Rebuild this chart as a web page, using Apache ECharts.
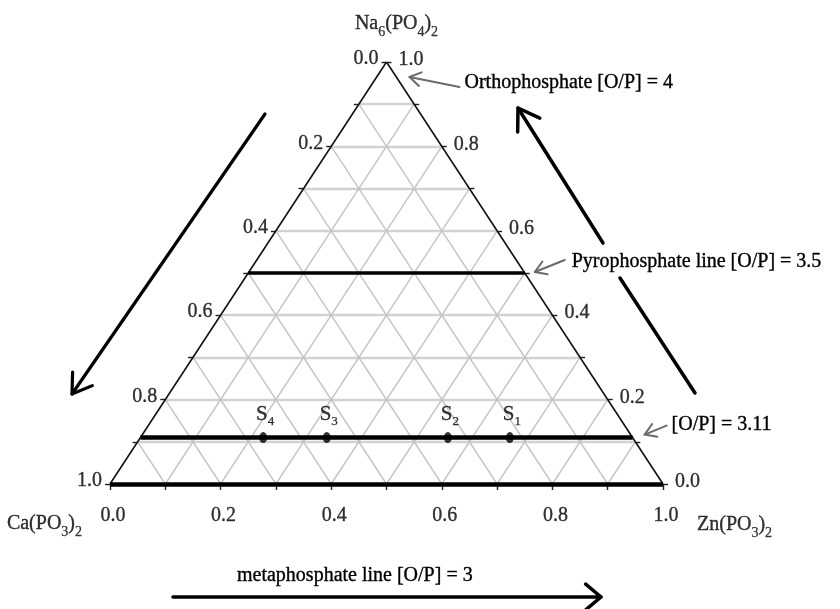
<!DOCTYPE html>
<html><head><meta charset="utf-8">
<script src="https://cdn.jsdelivr.net/npm/echarts@6/dist/echarts.min.js"></script>
<style>html,body{margin:0;padding:0;background:#fff}#c{width:840px;height:609px}</style>
</head><body><div id="c"></div>
<script>
// ---------- data ----------
const FONT = 'Liberation Serif';
const tickValues = [0, 0.2, 0.4, 0.6, 0.8, 1.0];
const tickLabels = ['0.0', '0.2', '0.4', '0.6', '0.8', '1.0'];
const minorTicks = [0, 0.1, 0.2, 0.3, 0.4, 0.5, 0.6, 0.7, 0.8, 0.9, 1.0];
const gridLevels = [0.1, 0.2, 0.3, 0.4, 0.5, 0.6, 0.7, 0.8, 0.9];
const vertexLabels = ['Na{s|6}(PO{s|4}){s|2}', 'Ca(PO{s|3}){s|2}', 'Zn(PO{s|3}){s|2}'];
const sampleNames = ['1', '2', '3', '4'];            // S subscripts
const sampleZn = [0.668, 0.556, 0.337, 0.222];       // Zn(PO3)2 fraction
const sampleCa = [0.222, 0.334, 0.553, 0.668];       // Ca(PO3)2 fraction
const sampleNa = [0.11, 0.11, 0.11, 0.11];           // Na6(PO4)2 fraction
const pyroNa = 0.5;      // pyrophosphate line [O/P] = 3.5
const op311Na = 0.11;    // [O/P] = 3.11 line
const metaNa = 0;        // metaphosphate line [O/P] = 3
const annOrtho = 'Orthophosphate [O/P] = 4';
const annPyro = 'Pyrophosphate line [O/P] = 3.5';
const ann311 = '[O/P] = 3.11';
const annMeta = 'metaphosphate line [O/P] = 3';

// ---------- helpers ----------
// ternary (zn, na) -> cartesian (x, y); ca = 1 - zn - na
function P(zn, na) { return [zn + na / 2, na]; }
function seg(a, b) { return { coords: [a, b] }; }
const GL = 110, GT = 62, GW = 553, GH = 422;
const tdx = 5 / GW, tdy = 6 / GH;

const hGrid = gridLevels.map(v => seg(P(0, v), P(1 - v, v)));
const znGrid = gridLevels.map(v => seg(P(v, 0), P(v, 1 - v)));
const caGrid = gridLevels.map(v => seg(P(1 - v, 0), P(0, 1 - v)));

const ticks = [];
minorTicks.forEach(v => {
  const b = P(v, 0); ticks.push(seg(b, [b[0], b[1] - tdy]));
  const l = P(0, v); ticks.push(seg(l, [l[0] - tdx, l[1]]));
  const r = P(1 - v, v); ticks.push(seg(r, [r[0] + tdx, r[1]]));
});

const txt = { fontFamily: FONT, fontSize: 20, color: '#000', textBorderColor: '#000', textBorderWidth: 0.35 };

const chart = echarts.init(document.getElementById('c'));
chart.setOption({
  animation: false,
  backgroundColor: '#fff',
  grid: { left: GL, top: GT, width: GW, height: GH },
  xAxis: { type: 'value', min: 0, max: 1, show: false },
  yAxis: { type: 'value', min: 0, max: 1, show: false },
  series: [
    { type: 'lines', coordinateSystem: 'cartesian2d', silent: true, z: 1,
      lineStyle: { color: '#d2d2d2', width: 2.4, opacity: 1 }, data: hGrid },
    { type: 'lines', coordinateSystem: 'cartesian2d', silent: true, z: 1,
      lineStyle: { color: '#c4c4c4', width: 1.4, opacity: 1 }, data: znGrid.concat(caGrid) },
    { type: 'lines', coordinateSystem: 'cartesian2d', silent: true, z: 3, clip: false,
      lineStyle: { color: '#222', width: 1.4, opacity: 1 }, data: ticks },
    { type: 'lines', coordinateSystem: 'cartesian2d', silent: true, z: 3,
      lineStyle: { color: '#111', width: 1.6, opacity: 1 },
      data: [seg(P(0, 0), P(0, 1)), seg(P(1, 0), P(0, 1))] },
    { type: 'lines', coordinateSystem: 'cartesian2d', silent: true, z: 4, clip: false,
      lineStyle: { color: '#000', width: 4.5, opacity: 1 },
      data: [seg(P(0, metaNa), P(1, metaNa))] },
    { type: 'lines', coordinateSystem: 'cartesian2d', silent: true, z: 4,
      lineStyle: { color: '#000', width: 3.5, opacity: 1 },
      data: [seg(P(0, pyroNa), P(1 - pyroNa, pyroNa))] },
    { type: 'lines', coordinateSystem: 'cartesian2d', silent: true, z: 4,
      lineStyle: { color: '#000', width: 4.5, opacity: 1 },
      data: [seg(P(0, op311Na), P(1 - op311Na, op311Na))] },
    { type: 'scatter', z: 6, symbol: 'circle', symbolSize: [8, 11], clip: false,
      itemStyle: { color: '#000' },
      data: sampleNames.map((n, i) => ({ name: n, value: P(sampleZn[i], sampleNa[i]), ca: sampleCa[i] })),
      label: { show: true, position: 'inside', offset: [2, -23], formatter: p => 'S{s|' + p.name + '}',
        fontFamily: FONT, fontSize: 21, color: '#000', textBorderColor: '#000', textBorderWidth: 0.35,
        rich: { s: { fontFamily: FONT, fontSize: 13, color: '#000', lineHeight: 12, padding: [14, 0, 0, 0],
          textBorderColor: '#000', textBorderWidth: 0.25 } } } },
    { type: 'scatter', z: 5, symbolSize: 0, clip: false, silent: true,
      data: tickValues.map((v, i) => ({ name: tickLabels[i], value: P(v, 0) })),
      label: Object.assign({ show: true, position: 'inside', offset: [3, 32], formatter: '{b}' }, txt) },
    { type: 'scatter', z: 5, symbolSize: 0, clip: false, silent: true,
      data: tickValues.map((v, i) => ({ name: tickLabels[i], value: P(0, 1 - v) })),
      label: Object.assign({ show: true, position: 'inside', align: 'right', offset: [-8, -3], formatter: '{b}' }, txt) },
    { type: 'scatter', z: 5, symbolSize: 0, clip: false, silent: true,
      data: tickValues.map((v, i) => ({ name: tickLabels[i], value: P(1 - v, v) })),
      label: Object.assign({ show: true, position: 'inside', align: 'left', offset: [12, -2], formatter: '{b}' }, txt) },
    { type: 'scatter', z: 5, symbolSize: 0, clip: false, silent: true,
      data: [
        { name: 'Na', value: P(0, 1), label: { formatter: vertexLabels[0], offset: [10, -38] } },
        { name: 'Ca', value: P(0, 0), label: { formatter: vertexLabels[1], align: 'right', offset: [-28, 40] } },
        { name: 'Zn', value: P(1, 0), label: { formatter: vertexLabels[2], align: 'left', offset: [34, 41] } }
      ],
      label: Object.assign({ show: true, position: 'inside',
        rich: { s: { fontFamily: FONT, fontSize: 14, color: '#000', lineHeight: 12, padding: [16, 0, 0, 0],
          textBorderColor: '#000', textBorderWidth: 0.25 } } }, txt) }
  ]
});

// ---------- annotations (arrows & notes) ----------
function px(pt) { return chart.convertToPixel({ gridIndex: 0 }, pt); }
function arrow(tail, tip, color, width, head, ang) {
  const dx = tail[0] - tip[0], dy = tail[1] - tip[1];
  const L = Math.hypot(dx, dy), ux = dx / L, uy = dy / L;
  const a = ang * Math.PI / 180;
  const r = s => [tip[0] + head * (ux * Math.cos(s * a) - uy * Math.sin(s * a)),
                  tip[1] + head * (ux * Math.sin(s * a) + uy * Math.cos(s * a))];
  const st = { stroke: color, lineWidth: width, fill: null, lineCap: 'round', lineJoin: 'round' };
  return [
    { type: 'polyline', silent: true, z: 100, shape: { points: [tail, tip] }, style: st },
    { type: 'polyline', silent: true, z: 100, shape: { points: [r(1), tip, r(-1)] }, style: st }
  ];
}
function line(a, b, color, width) {
  return { type: 'polyline', silent: true, z: 100, shape: { points: [a, b] },
    style: { stroke: color, lineWidth: width, fill: null, lineCap: 'round' } };
}
function note(text, x, y) {
  return { type: 'text', silent: true, z: 100, x: x, y: y,
    style: { text: text, fontFamily: FONT, fontSize: 20, fill: '#000', stroke: '#000', lineWidth: 0.35,
      verticalAlign: 'middle', align: 'left' } };
}
const topPx = px(P(0, 1));
const pyroEnd = px(P(1 - pyroNa, pyroNa));
const opEnd = px(P(1 - op311Na, op311Na));
const metaStart = px(P(0, metaNa));
const G = '#6a6a6a';
let els = [];
els = els.concat(arrow([topPx[0] + 73, topPx[1] + 25], [topPx[0] + 23, topPx[1] + 15], G, 2, 13, 32));
els.push(note(annOrtho, topPx[0] + 78, topPx[1] + 21));
els = els.concat(arrow([pyroEnd[0] + 40, pyroEnd[1] - 13], [pyroEnd[0] + 10, pyroEnd[1] - 1], G, 2, 13, 32));
els.push(note(annPyro, pyroEnd[0] + 47, pyroEnd[1] - 11));
els = els.concat(arrow([opEnd[0] + 34, opEnd[1] - 12], [opEnd[0] + 12, opEnd[1] - 3], G, 2, 13, 32));
els.push(note(ann311, opEnd[0] + 39, opEnd[1] - 13));
els.push(note(annMeta, metaStart[0] + 127, metaStart[1] + 92));
// direction arrows
els = els.concat(arrow([265, 114], [72, 394], '#000', 3.2, 22, 33));
els = els.concat(arrow([603, 243], [518, 108], '#000', 3.5, 24, 33));
els.push(line([620, 278], [695, 393], '#000', 3.5));
els = els.concat(arrow([173, 597], [601, 597], '#000', 3.5, 20, 40));
chart.setOption({ graphic: els });
</script>
</body></html>
